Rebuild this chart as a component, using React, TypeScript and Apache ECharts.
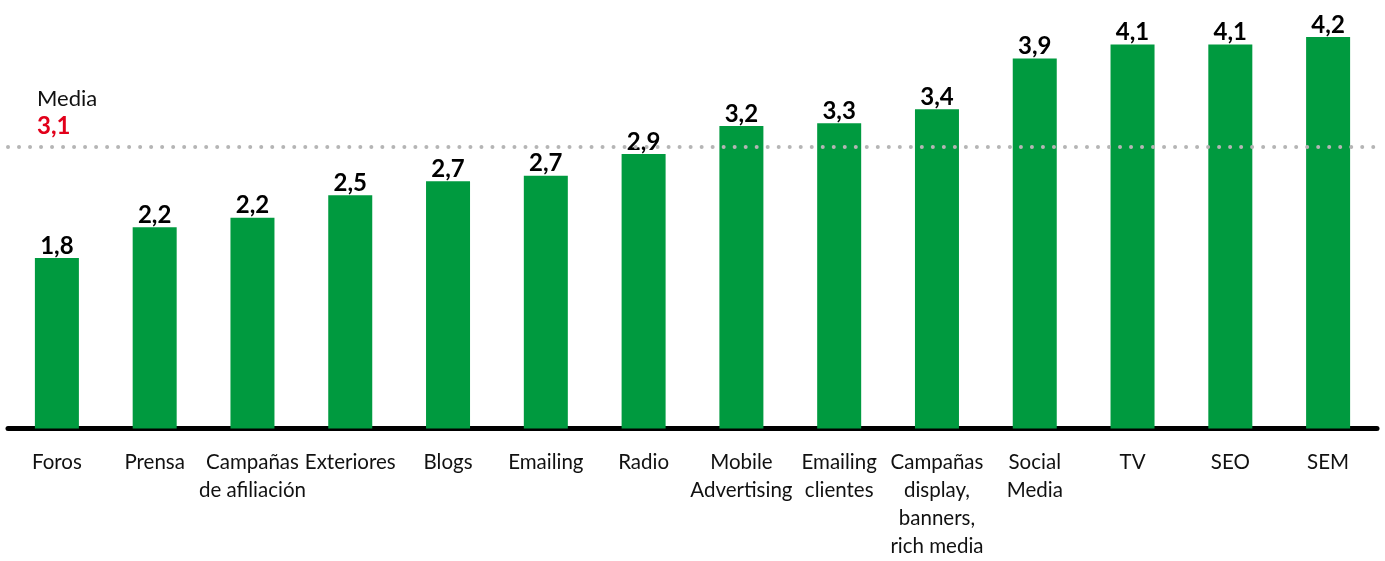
import React, { useEffect, useRef } from "react";
import * as echarts from "echarts";

const categorias = [
  "Foros",
  "Prensa",
  "Campañas\nde afiliación",
  "Exteriores",
  "Blogs",
  "Emailing",
  "Radio",
  "Mobile\nAdvertising",
  "Emailing\nclientes",
  "Campañas\ndisplay,\nbanners,\nrich media",
  "Social\nMedia",
  "TV",
  "SEO",
  "SEM",
];
// bar heights
const valores = [1.82, 2.15, 2.25, 2.49, 2.64, 2.7, 2.93, 3.23, 3.26, 3.41, 3.95, 4.1, 4.1, 4.18];
// value labels shown above the bars
const etiquetas = [1.8, 2.2, 2.2, 2.5, 2.7, 2.7, 2.9, 3.2, 3.3, 3.4, 3.9, 4.1, 4.1, 4.2];
const mediaEtiqueta = 3.1;
const mediaLinea = 3.01;

const fmt = (v: number) => v.toFixed(1).replace(".", ",");

export default function App() {
  const ref = useRef<HTMLDivElement>(null);
  useEffect(() => {
    if (!ref.current) return;
    const chart = echarts.init(ref.current, null, { renderer: "svg" });
    chart.setOption({
      animation: false,
      grid: { left: 8, right: 8, top: 7.1, bottom: 132.5, containLabel: false },
      xAxis: {
        type: "category",
        data: categorias,
        offset: 3,
        axisLine: { show: true, lineStyle: { color: "#000", width: 5 } },
        axisTick: { show: false },
        axisLabel: {
          interval: 0,
          margin: 15,
          color: "#111",
          fontFamily: "Lato",
          fontSize: 20.5,
          lineHeight: 28,
        },
      },
      yAxis: {
        type: "value",
        min: 0,
        max: 4.5,
        show: false,
        splitLine: { show: false },
      },
      graphic: [
        {
          type: "text",
          left: 37,
          top: 86,
          style: { text: "Media", fontFamily: "Lato", fontSize: 22, fill: "#111" },
        },
        {
          type: "text",
          left: 37,
          top: 112,
          style: {
            text: fmt(mediaEtiqueta),
            fontFamily: "Lato",
            fontWeight: "bold",
            fontSize: 24,
            fill: "#E2001A",
          },
        },
      ],
      series: [
        {
          type: "bar",
          data: valores,
          barWidth: "45%",
          itemStyle: { color: "#009A3F" },
          label: {
            show: true,
            position: "top",
            distance: 2,
            formatter: (p: any) => fmt(etiquetas[p.dataIndex]),
            fontFamily: "Lato",
            fontWeight: "bold",
            fontSize: 24,
            color: "#000",
          },
          markLine: {
            silent: true,
            symbol: "none",
            label: { show: false },
            lineStyle: { color: "#b5b5b5", width: 4, type: [0.01, 11], cap: "round" },
            data: [{ yAxis: mediaLinea }],
            z: 10,
          },
        },
      ],
    });
    return () => chart.dispose();
  }, []);
  return (
    <div
      ref={ref}
      style={{ position: "fixed", left: 0, top: 0, width: 1385, height: 561 }}
    />
  );
}
